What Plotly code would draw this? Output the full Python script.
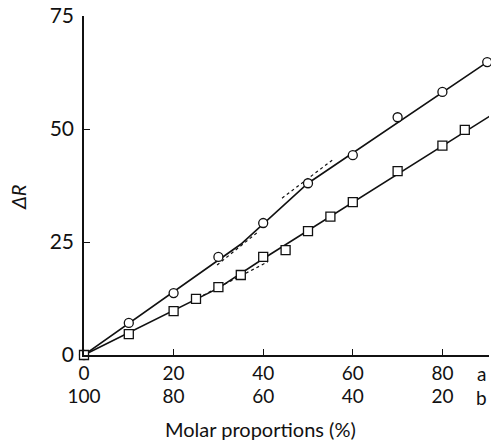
import plotly.graph_objects as go

# Data
comp_a = [0, 10, 20, 30, 40, 50, 60, 70, 80, 90]
dr_a = [0, 7.1, 13.7, 21.7, 29.2, 38.0, 44.2, 52.6, 58.2, 64.8]

comp_b = [0, 10, 20, 25, 30, 35, 40, 45, 50, 55, 60, 70, 80, 85]
dr_b = [0, 4.6, 9.7, 12.4, 15.0, 17.7, 21.7, 23.2, 27.4, 30.6, 33.8, 40.7, 46.3, 49.8]

# Fitted (solid) line vertices
fit_a_x = [0, 35, 50, 90]
fit_a_y = [0, 24.5, 38.0, 64.8]
fit_b_x = [0, 30, 40, 90.5]
fit_b_y = [0, 14.8, 21.3, 52.8]

# Dashed segments
dash_a1_x = [29.7, 38.8]
dash_a1_y = [19.9, 27.2]
dash_a2_x = [44.2, 55.4]
dash_a2_y = [34.7, 43.1]
dash_b_x = [25.4, 41.0]
dash_b_y = [12.6, 20.6]

tick_a = [0, 20, 40, 60, 80]
tick_b = [100, 80, 60, 40, 20]
ytick_vals = [0, 25, 50, 75]

FONT = "Lato"
BLACK = "#111111"
XR = [0, 90.4]

fig = go.Figure()

for xs, ys, dash, w in [
    (fit_a_x, fit_a_y, "solid", 1.6),
    (fit_b_x, fit_b_y, "solid", 1.6),
    (dash_a1_x, dash_a1_y, "3px,3px", 1.2),
    (dash_a2_x, dash_a2_y, "3px,3px", 1.2),
    (dash_b_x, dash_b_y, "3px,3px", 1.2),
]:
    fig.add_trace(go.Scatter(x=xs, y=ys, mode="lines",
                             line=dict(color=BLACK, width=w, dash=dash),
                             showlegend=False, hoverinfo="skip", cliponaxis=False))

fig.add_trace(go.Scatter(x=comp_a, y=dr_a, mode="markers", name="a",
                         marker=dict(symbol="circle", size=9, color="white",
                                     line=dict(color=BLACK, width=1.3)),
                         showlegend=False, cliponaxis=False))
fig.add_trace(go.Scatter(x=comp_b, y=dr_b, mode="markers", name="b",
                         marker=dict(symbol="square", size=9, color="white",
                                     line=dict(color=BLACK, width=1.3)),
                         showlegend=False, cliponaxis=False))

# invisible trace so the secondary (b-composition) axis is drawn
fig.add_trace(go.Scatter(x=XR, y=[0, 0], xaxis="x2", mode="lines",
                         line=dict(width=0, color="rgba(0,0,0,0)"),
                         showlegend=False, hoverinfo="skip"))

fig.update_layout(
    width=491, height=440,
    margin=dict(l=84, r=2, t=16, b=85),
    plot_bgcolor="white", paper_bgcolor="white",
    font=dict(family=FONT, color=BLACK, size=19),
    xaxis=dict(range=XR, showgrid=False, zeroline=False,
               showline=True, linecolor=BLACK, linewidth=1.6,
               ticks="inside", ticklen=6, tickwidth=1.4, tickcolor=BLACK,
               tickvals=tick_a, ticktext=[str(v) for v in tick_a],
               tickfont=dict(size=19)),
    xaxis2=dict(range=XR, overlaying="x", side="bottom", anchor="y",
                showgrid=False, zeroline=False, showline=False, ticks="",
                tickvals=tick_a, ticktext=[str(v) for v in tick_b],
                tickfont=dict(size=19), ticklabelstandoff=28),
    yaxis=dict(range=[0, 75], showgrid=False, zeroline=False,
               showline=True, linecolor=BLACK, linewidth=1.6,
               ticks="inside", ticklen=6, tickwidth=1.4, tickcolor=BLACK,
               tickvals=ytick_vals, tickfont=dict(size=21),
               ticklabelstandoff=4),
)

# axis titles
fig.add_annotation(x=(260 - 84) / 405, y=0, xref="paper", yref="paper",
                   text="Molar proportions (%)", showarrow=False,
                   yanchor="middle", yshift=-74, font=dict(size=20))
fig.add_annotation(x=-66 / 405, y=(355 - 198) / 339, xref="paper", yref="paper",
                   text="<i>ΔR</i>", showarrow=False, textangle=-90,
                   xanchor="center", yanchor="middle", font=dict(size=20))

fig.add_annotation(x=88.8, y=0, xref="x", yref="paper", text="a",
                   showarrow=False, yanchor="middle", yshift=-18, font=dict(size=19))
fig.add_annotation(x=88.8, y=0, xref="x", yref="paper", text="b",
                   showarrow=False, yanchor="middle", yshift=-42, font=dict(size=19))

fig.write_html("out.html")
